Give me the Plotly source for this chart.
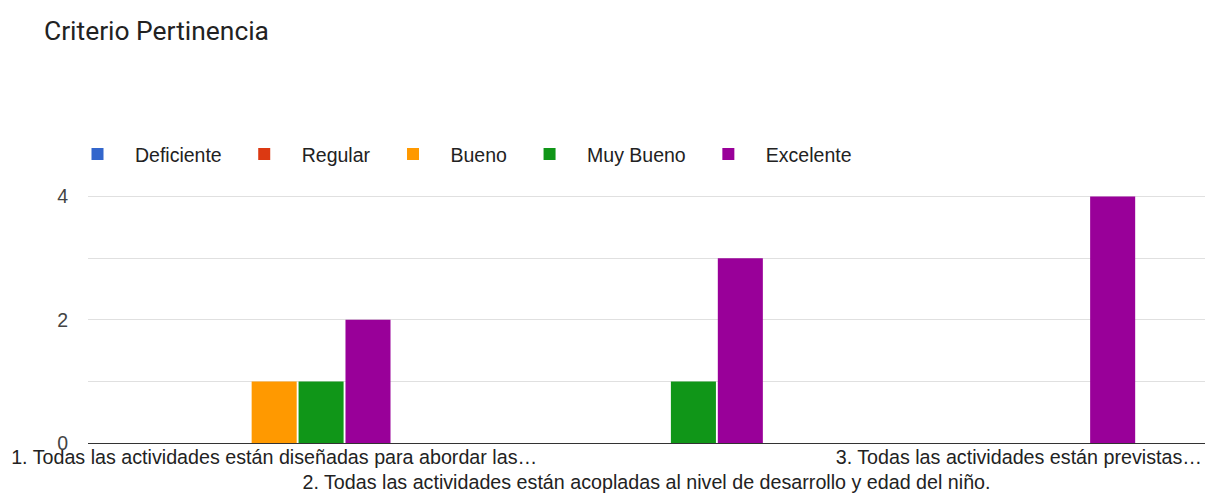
import plotly.graph_objects as go

categories = [
    "1. Todas las actividades están diseñadas para abordar las…",
    "<br>2. Todas las actividades están acopladas al nivel de desarrollo y edad del niño.",
    "3. Todas las actividades están previstas…",
]
series_names = ["Deficiente", "Regular", "Bueno", "Muy Bueno", "Excelente"]
deficiente = [0, 0, 0]
regular = [0, 0, 0]
bueno = [1, 0, 0]
muy_bueno = [1, 1, 0]
excelente = [2, 3, 4]
colors = ["#3366cc", "#dc3912", "#ff9900", "#109618", "#990099"]

values = [deficiente, regular, bueno, muy_bueno, excelente]
xpos = [0, 1, 2]

FONT = "Arial, Liberation Sans, sans-serif"

fig = go.Figure()
for name, vals, col in zip(series_names, values, colors):
    fig.add_trace(go.Bar(name=name, x=xpos, y=vals, marker=dict(color=col, line=dict(width=0))))

fig.update_layout(
    width=1205, height=494,
    paper_bgcolor="white", plot_bgcolor="white",
    font=dict(family=FONT, size=19.5, color="#222222"),
    title=dict(text="Criterio Pertinencia", x=44/1205, xref="container", xanchor="left",
               y=1-31/494, yref="container", yanchor="middle",
               font=dict(family="Roboto, Arial, sans-serif", size=26.4, color="#222222")),
    margin=dict(l=88, r=0, t=135, b=51),
    barmode="group", bargap=0.37, bargroupgap=0.04,
    showlegend=True,
    legend=dict(orientation="h", x=-28/1117, xanchor="left", y=1.0005, yanchor="top",
                font=dict(family=FONT, size=19.5, color="#222222"), bgcolor="rgba(0,0,0,0)",
                itemwidth=65),
)
fig.update_xaxes(tickmode="array", tickvals=xpos, ticktext=categories, range=[-0.5, 2.5],
                 showgrid=False, showline=False, ticks="", tickangle=0, automargin=False,
                 tickfont=dict(family=FONT, size=19.7, color="#222222"))
fig.update_yaxes(range=[0, 5], dtick=2, tick0=0, showgrid=True, gridcolor="#e0e0e0", gridwidth=1,
                 minor=dict(dtick=1, showgrid=True, gridcolor="#e0e0e0", gridwidth=1),
                 zeroline=True, zerolinecolor="#333333", zerolinewidth=1, automargin=False,
                 showline=False, ticks="", tickfont=dict(family=FONT, size=19.5, color="#444444"),
                 ticklabelstandoff=19)
fig.write_html("out.html", config={"displayModeBar": False},
               post_script="document.body.style.margin='0';")
